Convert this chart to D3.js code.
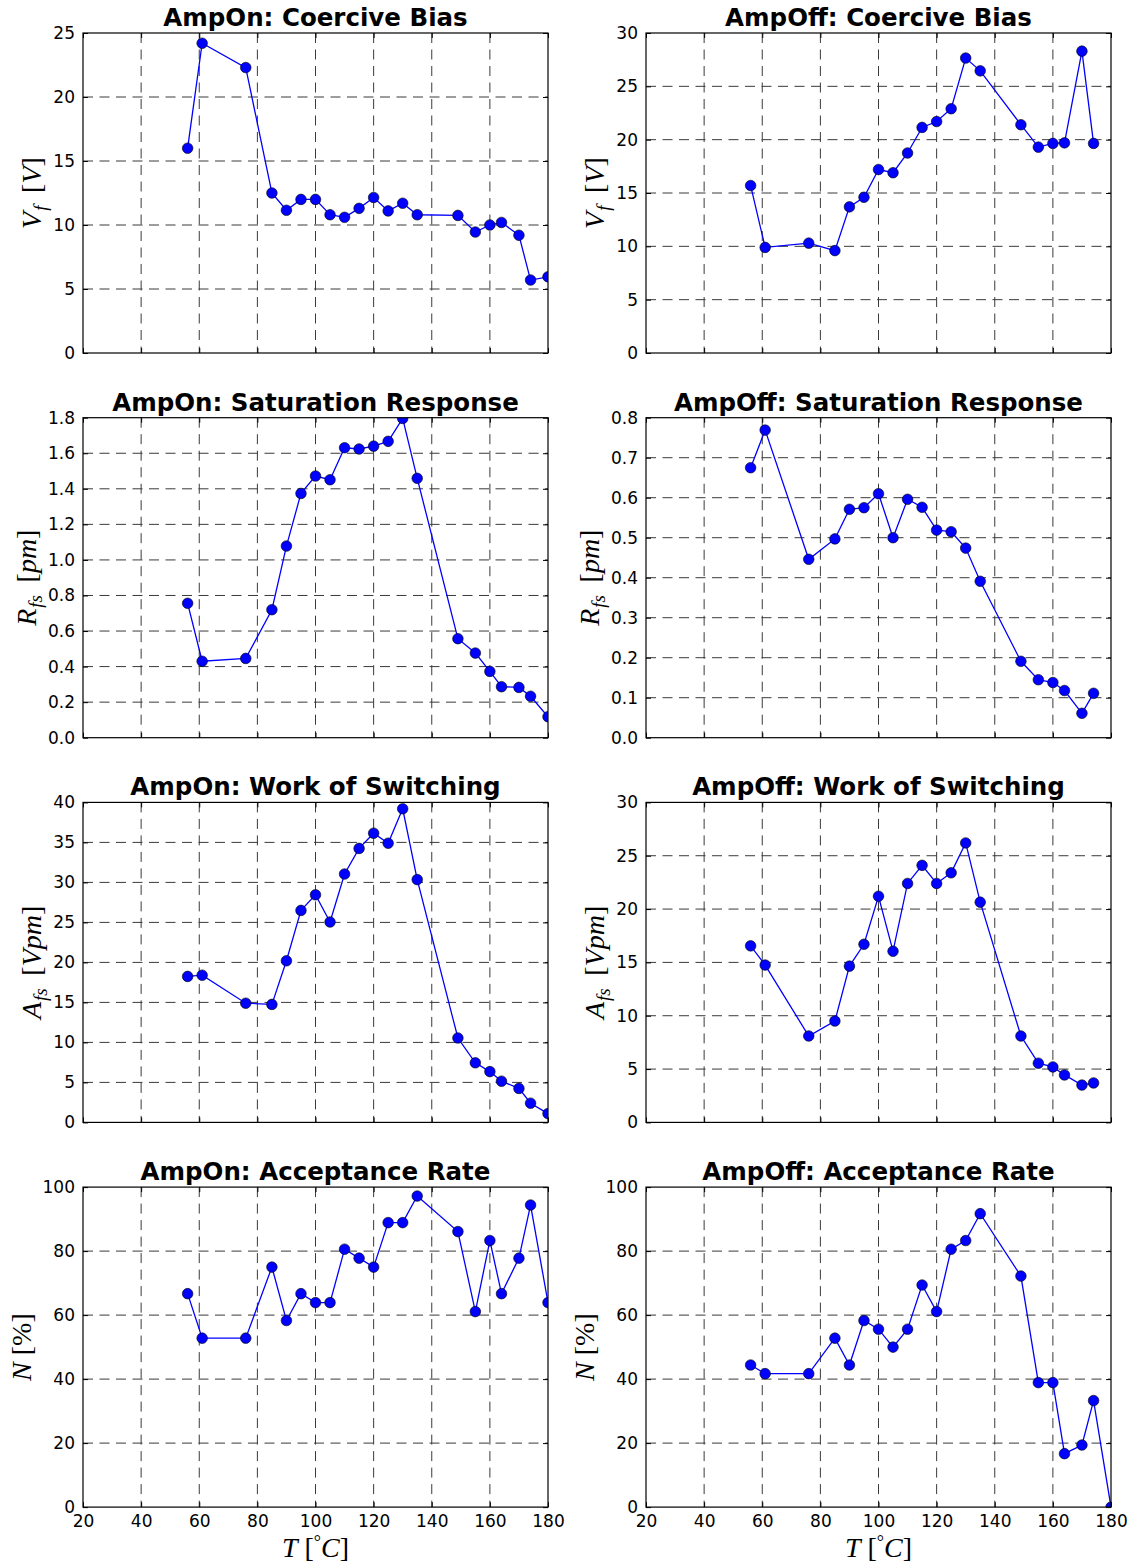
<!DOCTYPE html>
<html>
<meta charset="utf-8"/>
<head>
  <title>AmpOn / AmpOff vs temperature</title>
  <style>
    body { margin: 0; background: #fff; }
    .tick text { font-family: "DejaVu Sans", sans-serif; font-size: 17px; fill: #000; }
    .title { font-family: "DejaVu Sans", sans-serif; font-size: 24.5px; font-weight: bold; }
    .mathlabel { font-family: "Liberation Serif", serif; font-size: 28px; }
    .grid line { stroke: #3a3a3a; stroke-width: 1; stroke-dasharray: 10,6.5; }
  </style>
</head>
<body>
<svg width="1128" height="1564"></svg>
<script src="https://d3js.org/d3.v7.min.js"></script>
<script>
// temperatures (deg C)
const temps = [56, 61, 76, 85, 90, 95, 100, 105, 110, 115, 120, 125, 130, 135, 149, 155, 160, 164, 170, 174, 180];

// AmpOn series
const ampOnCoercive   = [16.0, 24.2, 22.3, 12.5, 11.15, 12.0, 12.0, 10.8, 10.6, 11.3, 12.15, 11.1, 11.7, 10.8, 10.75, 9.45, 10.0, 10.2, 9.2, 5.7, 5.95];
const ampOnSaturation = [0.756, 0.43, 0.446, 0.72, 1.078, 1.374, 1.472, 1.451, 1.631, 1.624, 1.64, 1.667, 1.796, 1.459, 0.557, 0.476, 0.373, 0.287, 0.283, 0.233, 0.118];
const ampOnWork       = [18.25, 18.4, 14.9, 14.75, 20.2, 26.5, 28.45, 25.05, 31.05, 34.25, 36.15, 34.9, 39.2, 30.35, 10.55, 7.45, 6.35, 5.15, 4.25, 2.4, 1.1];
const ampOnAccept     = [66.7, 52.8, 52.8, 75.0, 58.3, 66.7, 63.9, 63.9, 80.6, 77.8, 75.0, 88.9, 88.9, 97.2, 86.1, 61.1, 83.3, 66.7, 77.8, 94.4, 63.9];

// AmpOff series (no value at 180 except acceptance)
const ampOffCoercive   = [15.7, 9.9, 10.3, 9.6, 13.7, 14.6, 17.2, 16.9, 18.75, 21.15, 21.7, 22.9, 27.65, 26.45, 21.4, 19.3, 19.65, 19.7, 28.3, 19.65, null];
const ampOffSaturation = [0.675, 0.769, 0.446, 0.497, 0.571, 0.575, 0.61, 0.5, 0.596, 0.576, 0.519, 0.515, 0.474, 0.391, 0.191, 0.145, 0.138, 0.118, 0.061, 0.111, null];
const ampOffWork       = [16.55, 14.75, 8.1, 9.5, 14.65, 16.7, 21.2, 16.05, 22.4, 24.1, 22.4, 23.4, 26.2, 20.65, 8.1, 5.55, 5.2, 4.45, 3.5, 3.7, null];
const ampOffAccept     = [44.4, 41.7, 41.7, 52.8, 44.4, 58.3, 55.6, 50.0, 55.6, 69.4, 61.1, 80.6, 83.3, 91.7, 72.2, 38.9, 38.9, 16.7, 19.4, 33.3, 0];

const xTicks = [20, 40, 60, 80, 100, 120, 140, 160, 180];

// y label pieces: [text, italic, subscript]
const labV = [["V", 1, 0], ["f", 1, 1], [" [", 0, 0], ["V", 1, 0], ["]", 0, 0]];
const labR = [["R", 1, 0], ["fs", 1, 1], [" [", 0, 0], ["pm", 1, 0], ["]", 0, 0]];
const labA = [["A", 1, 0], ["fs", 1, 1], [" [", 0, 0], ["Vpm", 1, 0], ["]", 0, 0]];
const labN = [["N", 1, 0], [" [", 0, 0], ["%", 0, 0], ["]", 0, 0]];

const panels = [
  {title: "AmpOn: Coercive Bias", vals: ampOnCoercive, ymax: 25, step: 5, fmt: "d", lab: labV},
  {title: "AmpOff: Coercive Bias", vals: ampOffCoercive, ymax: 30, step: 5, fmt: "d", lab: labV},
  {title: "AmpOn: Saturation Response", vals: ampOnSaturation, ymax: 1.8, step: 0.2, fmt: ".1f", lab: labR},
  {title: "AmpOff: Saturation Response", vals: ampOffSaturation, ymax: 0.8, step: 0.1, fmt: ".1f", lab: labR},
  {title: "AmpOn: Work of Switching", vals: ampOnWork, ymax: 40, step: 5, fmt: "d", lab: labA},
  {title: "AmpOff: Work of Switching", vals: ampOffWork, ymax: 30, step: 5, fmt: "d", lab: labA},
  {title: "AmpOn: Acceptance Rate", vals: ampOnAccept, ymax: 100, step: 20, fmt: "d", lab: labN},
  {title: "AmpOff: Acceptance Rate", vals: ampOffAccept, ymax: 100, step: 20, fmt: "d", lab: labN}
];

const svg = d3.select("svg");
const colX = [83, 646];
const plotW = 465, plotH = 320;
const rowY = i => 33 + i * 384.7;

function addMath(sel, parts) {
  parts.forEach(p => {
    const t = sel.append("tspan").text(p[0])
      .attr("font-style", p[1] ? "italic" : "normal");
    if (p[2]) {
      t.attr("font-size", "19px").attr("dy", 6).attr("dx", 1);
      sel.append("tspan").attr("dy", -6).text("\u2009");
    }
  });
}

panels.forEach((p, i) => {
  const col = i % 2, row = Math.floor(i / 2);
  const g = svg.append("g").attr("transform", "translate(" + colX[col] + "," + rowY(row) + ")");

  const x = d3.scaleLinear().domain([20, 180]).range([0, plotW]);
  const y = d3.scaleLinear().domain([0, p.ymax]).range([plotH, 0]);
  const yTicks = d3.range(0, p.ymax + p.step / 2, p.step);

  // grid
  const grid = g.append("g").attr("class", "grid");
  grid.selectAll(".gx").data(xTicks.slice(1, -1)).enter().append("line")
    .attr("x1", d => x(d)).attr("x2", d => x(d)).attr("y1", 0).attr("y2", plotH);
  grid.selectAll(".gy").data(yTicks.slice(1, -1)).enter().append("line")
    .attr("x1", 0).attr("x2", plotW).attr("y1", d => y(d)).attr("y2", d => y(d));

  // axes with inward ticks, on all four sides
  const yAxis = g.append("g").call(d3.axisLeft(y).tickValues(yTicks).tickFormat(d3.format(p.fmt)).tickSizeInner(-5).tickSizeOuter(0).tickPadding(8));
  g.append("g").attr("transform", "translate(" + plotW + ",0)")
    .call(d3.axisRight(y).tickValues(yTicks).tickSizeInner(-5).tickSizeOuter(0).tickFormat(""));
  g.append("g").call(d3.axisTop(x).tickValues(xTicks).tickSizeInner(-5).tickSizeOuter(0).tickFormat(""));
  g.append("g").attr("transform", "translate(0," + plotH + ")")
    .call(d3.axisBottom(x).tickValues(xTicks).tickSizeInner(-5).tickSizeOuter(0).tickPadding(8)
      .tickFormat(row === 3 ? d3.format("d") : ""));
  g.selectAll(".domain").remove();

  // data
  const pts = temps.map((t, k) => ({t: t, v: p.vals[k]})).filter(d => d.v != null);
  const clipId = "clip" + i;
  g.append("clipPath").attr("id", clipId).append("rect").attr("width", plotW).attr("height", plotH);
  const dg = g.append("g").attr("clip-path", "url(#" + clipId + ")");
  dg.append("path").datum(pts)
    .attr("fill", "none").attr("stroke", "#0000ff").attr("stroke-width", 1.3)
    .attr("d", d3.line().x(d => x(d.t)).y(d => y(d.v)));
  dg.selectAll("circle").data(pts).enter().append("circle")
    .attr("cx", d => x(d.t)).attr("cy", d => y(d.v)).attr("r", 5.3)
    .attr("fill", "#0000ff").attr("stroke", "#000").attr("stroke-width", 0.6);

  // frame
  g.append("rect").attr("width", plotW).attr("height", plotH)
    .attr("fill", "none").attr("stroke", "#000").attr("stroke-width", 1.2);

  // title
  g.append("text").attr("class", "title").attr("x", plotW / 2).attr("y", -7)
    .attr("text-anchor", "middle").text(p.title);

  // y label, placed left of the tick labels
  let tw = 0;
  yAxis.selectAll("text").each(function() { tw = Math.max(tw, this.getBBox().width); });
  const ylab = g.append("text").attr("class", "mathlabel").attr("text-anchor", "middle")
    .attr("transform", "translate(" + (-tw - 20) + "," + (plotH / 2) + ") rotate(-90)");
  addMath(ylab, p.lab);

  // x label on the bottom row
  if (row === 3) {
    const xl = g.append("text").attr("class", "mathlabel").attr("text-anchor", "middle")
      .attr("x", plotW / 2).attr("y", plotH + 50);
    xl.append("tspan").attr("font-style", "italic").text("T");
    xl.append("tspan").text(" [");
    xl.append("tspan").attr("font-size", "18px").attr("dy", -9).text("\u00B0");
    xl.append("tspan").attr("font-style", "italic").attr("dy", 9).text("C");
    xl.append("tspan").text("]");
  }
});
</script>
</body>
</html>
